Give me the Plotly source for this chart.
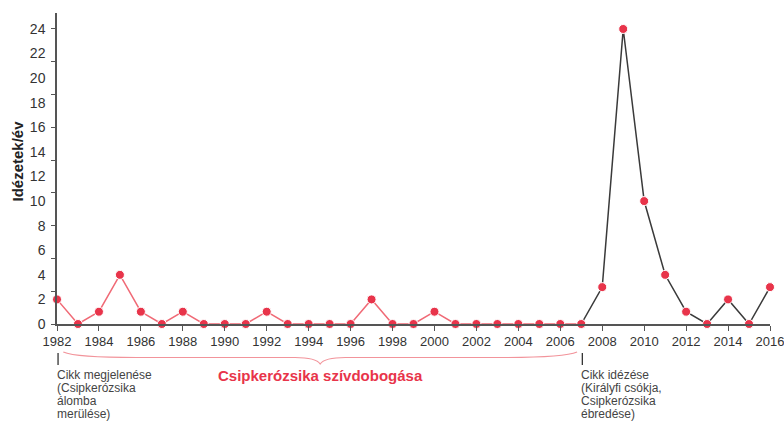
import plotly.graph_objects as go

# citations per year
years = list(range(1982, 2017))
citations = [2, 0, 1, 4, 1, 0, 1, 0, 0, 0, 1, 0, 0, 0, 0, 2, 0, 0, 1, 0,
             0, 0, 0, 0, 0, 0, 3, 24, 10, 4, 1, 0, 2, 0, 3]
split_year = 2007
y_labels = list(range(0, 25, 2))
x_labels = list(range(1982, 2017, 2))
note_start = ["Cikk megjelenése", "(Csipkerózsika", "álomba", "merülése)"]
note_cite = ["Cikk idézése", "(Királyfi csókja,", "Csipkerózsika", "ébredése)"]

i = years.index(split_year)

RED = "#e8344a"
PINK = "#f06a76"
DARK = "#3a3a3a"
AXIS = "#555555"
FONT = "Liberation Sans, Arial, sans-serif"
PLOT_H = 311  # px height of the plot area, used to place notes below the axis


def py(px_below):
    # paper y for a point px_below pixels under the x axis
    return -px_below / PLOT_H


fig = go.Figure()

# sleeping part (red line) and awakened part (dark line)
fig.add_trace(go.Scatter(x=years[:i + 1], y=citations[:i + 1], mode="lines",
                         line=dict(color=PINK, width=1.5), hoverinfo="skip"))
fig.add_trace(go.Scatter(x=years[i:], y=citations[i:], mode="lines",
                         line=dict(color=DARK, width=1.5), hoverinfo="skip"))
fig.add_trace(go.Scatter(x=years, y=citations, mode="markers",
                         marker=dict(color=RED, size=9, line=dict(color="white", width=1)),
                         cliponaxis=False))

# invisible trace only to carry the tick-mark axis
fig.add_trace(go.Scatter(x=[years[0]], y=[0], yaxis="y2", mode="markers",
                         marker=dict(opacity=0), hoverinfo="skip"))

fig.update_layout(
    width=784, height=423,
    margin=dict(l=57, r=14, t=13, b=99),
    plot_bgcolor="white", paper_bgcolor="white",
    showlegend=False,
    font=dict(family=FONT, size=13, color="#333333"),
    xaxis=dict(range=[1982, 2016], tickvals=x_labels, ticks="outside", ticklen=5,
               tickcolor=AXIS, showline=True, linecolor=AXIS, linewidth=1.5,
               showgrid=False, zeroline=False, tickfont=dict(size=13),
               automargin=False, ticklabeloverflow="allow"),
    yaxis=dict(range=[0, 25.3], tickvals=y_labels, ticks="", showline=True,
               linecolor=AXIS, linewidth=1.5, showgrid=False, zeroline=False,
               ticklabelstandoff=7, tickfont=dict(size=14), automargin=False),
    yaxis2=dict(range=[0, 25.3], overlaying="y", side="left", tickvals=[k * 8 / 3 for k in range(10)],
                ticks="outside", ticklen=5, tickcolor=AXIS, showticklabels=False,
                showgrid=False, zeroline=False, showline=False, automargin=False),
)

fig.add_annotation(text="<b>Idézetek/év</b>", textangle=-90, xref="paper", yref="paper",
                   x=-0.055, y=0.525, xanchor="center", yanchor="middle", showarrow=False,
                   font=dict(size=15, color="#222222"))

# markers for the two events + their notes
for yr, lines in [(years[0], note_start), (split_year, note_cite)]:
    fig.add_shape(type="line", xref="x", yref="paper", x0=yr + 0.05, x1=yr + 0.05,
                  y0=py(29), y1=py(41), line=dict(color="#222222", width=1.2))
    for k, line in enumerate(lines):
        fig.add_annotation(text=line, xref="x", yref="paper", x=yr, y=py(51 + 13 * k),
                           xanchor="left", yanchor="middle", align="left", showarrow=False,
                           xshift=-2, font=dict(size=12, color="#444444"))

# curly brace over the sleeping period
x0, x1 = 1982.3, 2006.8
xm = (x0 + x1) / 2
y0, ym, yt = py(28), py(33.5), py(40)
path = (f"M {x0},{y0} Q {x0 + 0.6},{ym} {x0 + 3.5},{ym} L {xm - 1.2},{ym} "
        f"Q {xm - 0.2},{ym} {xm},{yt} Q {xm + 0.2},{ym} {xm + 1.2},{ym} "
        f"L {x1 - 3.5},{ym} Q {x1 - 0.6},{ym} {x1},{y0}")
fig.add_shape(type="path", xref="x", yref="paper", path=path,
              line=dict(color="#f2949b", width=1.2))

fig.add_annotation(text="<b>Csipkerózsika szívdobogása</b>", xref="x", yref="paper",
                   x=xm, y=py(51), yanchor="middle", showarrow=False,
                   font=dict(size=15, color=RED))

fig.write_html("out.html", config={"displayModeBar": False},
               post_script="document.body.style.margin='0';")
